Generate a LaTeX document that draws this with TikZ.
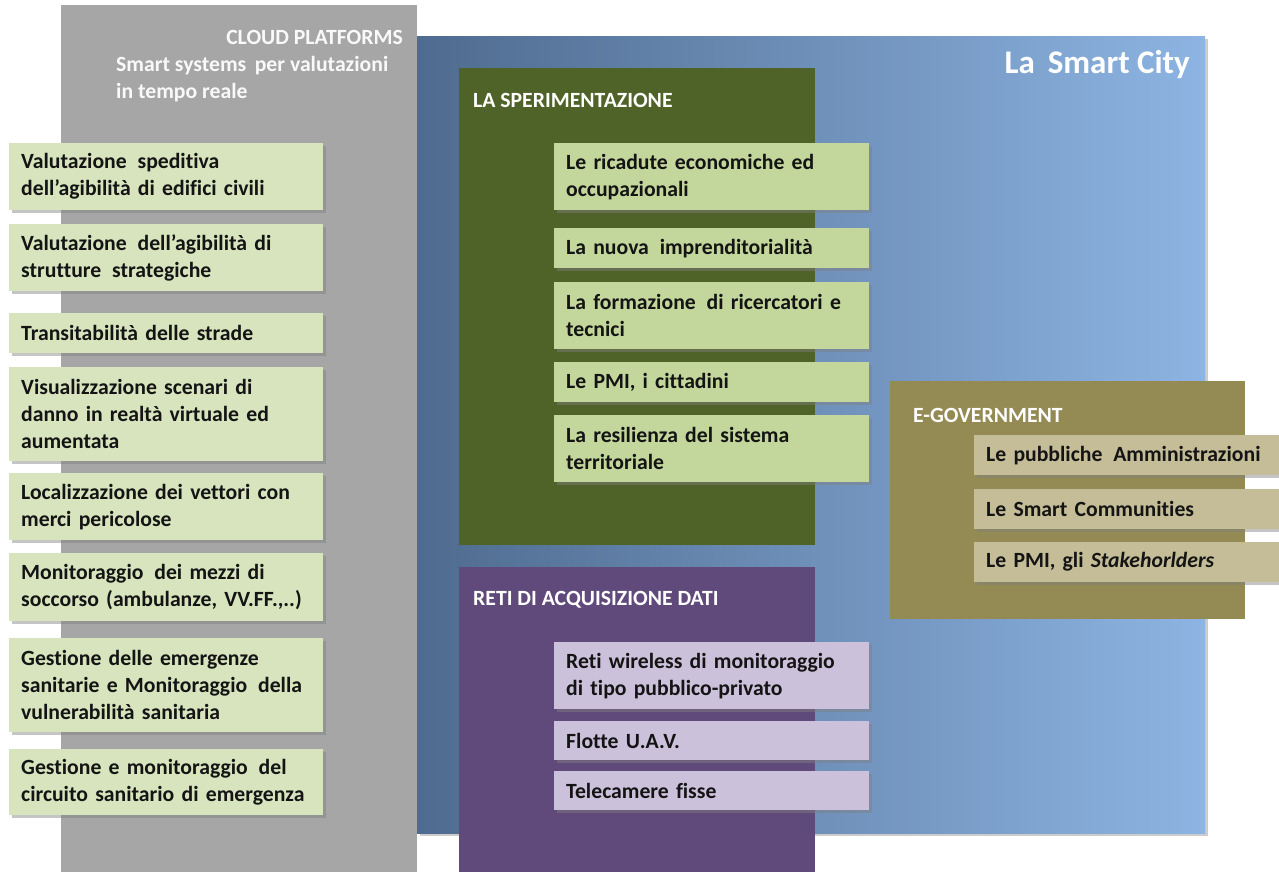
\documentclass[tikz,border=0pt]{standalone}
\usepackage{fontspec}
\setmainfont{Carlito}[Ligatures=NoCommon]
\usepackage{xcolor}
\definecolor{Cloud-gray}{RGB}{166, 166, 166}
\definecolor{City-dark}{RGB}{79, 107, 143}
\definecolor{City-light}{RGB}{141, 180, 226}
\definecolor{Spe-green}{RGB}{79, 98, 40}
\definecolor{Reti-purple}{RGB}{96, 74, 123}
\definecolor{Egov-olive}{RGB}{148, 138, 84}
\definecolor{Box-cloud}{RGB}{215, 228, 189}
\definecolor{Box-spe}{RGB}{195, 214, 155}
\definecolor{Box-reti}{RGB}{204, 193, 218}
\definecolor{Box-egov}{RGB}{196, 189, 151}
\definecolor{Text-dark}{RGB}{20, 20, 20}
\usetikzlibrary{shadows,positioning}

\begin{document}
\begin{tikzpicture} [ % styles
    x=1pt, y=-1pt, font=\bfseries\fontsize{21.7}{27}\selectfont,
    panel/.style = {shape = rectangle, anchor = north west, inner sep = 0pt},
    title/.style = {shape = rectangle, inner sep = 0pt, text = white, align = left},
    item/.style = {shape = rectangle, anchor = north west, align = left, inner xsep = 12pt, inner ysep = 0pt,
        text = Text-dark, drop shadow = {shadow xshift = 3pt, shadow yshift = -3pt, opacity = 0.45}},
    item-cloud/.style = {item, fill = Box-cloud, minimum width = 314pt, text width = 290pt},
    item-spe/.style = {item, fill = Box-spe, minimum width = 315pt, text width = 291pt},
    item-reti/.style = {item, fill = Box-reti, minimum width = 315pt, text width = 291pt},
    item-egov/.style = {item, fill = Box-egov, minimum width = 310pt, text width = 286pt}
]

\useasboundingbox [fill = white] (0,0) rectangle (1279,872);

% pannelli
\node [panel, fill = Cloud-gray, minimum width = 356pt, minimum height = 867pt] (pcloud) at (61,5){};
\node [panel, minimum width = 788pt, minimum height = 797pt, left color = City-dark, right color = City-light,
    drop shadow = {shadow xshift = 3pt, shadow yshift = -3pt, opacity = 0.4}] (pcity) at (417,36){};
\node [panel, fill = Spe-green, minimum width = 356pt, minimum height = 477pt] (pspe) at (459,68){};
\node [panel, fill = Reti-purple, minimum width = 356pt, minimum height = 305pt] (preti) at (459,567){};
\node [panel, fill = Egov-olive, minimum width = 355pt, minimum height = 238pt] (pegov) at (890,381){};

% titoli
\node [title, anchor = east, text = white!95!gray] (tcloud) at (403,37){CLOUD PLATFORMS};
\node [title, anchor = north west, text = white!95!gray] (tsmart) at (116,56){Smart systems \,per valutazioni\\in tempo reale};
\node [title, anchor = east, font = \bfseries\fontsize{33}{33}\selectfont] (tcity) at (1190,65){La \,Smart City};
\node [title, anchor = west] (tspe) at (473,100){LA SPERIMENTAZIONE};
\node [title, anchor = west] (treti) at (473,600){RETI DI ACQUISIZIONE DATI};
\node [title, anchor = west] (tegov) at (913,415){E-GOVERNMENT};

% cloud platforms
\node [item-cloud, minimum height = 67pt] (cp1) at (9,143){Valutazione \,speditiva\\dell’agibilità di edifici civili};
\node [item-cloud, minimum height = 67pt] (cp2) at (9,224){Valutazione \,dell’agibilità di\\strutture \,strategiche};
\node [item-cloud, minimum height = 40pt] (cp3) at (9,313){Transitabilità delle strade};
\node [item-cloud, minimum height = 94pt] (cp4) at (9,367){Visualizzazione scenari di\\danno in realtà virtuale ed\\aumentata};
\node [item-cloud, minimum height = 67pt] (cp5) at (9,473){Localizzazione dei vettori con\\merci pericolose};
\node [item-cloud, minimum height = 68pt] (cp6) at (9,553){Monitoraggio \,dei mezzi di\\soccorso (ambulanze, VV.FF.,..)};
\node [item-cloud, minimum height = 94pt] (cp7) at (9,638){Gestione delle emergenze\\sanitarie e Monitoraggio \,della\\vulnerabilità sanitaria};
\node [item-cloud, minimum height = 66pt] (cp8) at (9,749){Gestione e monitoraggio \,del\\circuito sanitario di emergenza};

% sperimentazione
\node [item-spe, minimum height = 67pt] (sp1) at (554,143){Le ricadute economiche ed\\occupazionali};
\node [item-spe, minimum height = 40pt] (sp2) at (554,228){La nuova \,imprenditorialità};
\node [item-spe, minimum height = 67pt] (sp3) at (554,282){La formazione \,di ricercatori e\\tecnici};
\node [item-spe, minimum height = 40pt] (sp4) at (554,362){Le PMI, i cittadini};
\node [item-spe, minimum height = 67pt] (sp5) at (554,415){La resilienza del sistema\\territoriale};

% reti
\node [item-reti, minimum height = 67pt] (rt1) at (554,642){Reti wireless di monitoraggio\\di tipo pubblico-privato};
\node [item-reti, minimum height = 39pt] (rt2) at (554,721){Flotte U.A.V.};
\node [item-reti, minimum height = 39pt] (rt3) at (554,771){Telecamere fisse};

% e-government
\node [item-egov, minimum height = 40pt] (eg1) at (974,435){Le pubbliche \,Amministrazioni};
\node [item-egov, minimum height = 40pt] (eg2) at (974,489){Le Smart Communities};
\node [item-egov, minimum height = 40pt] (eg3) at (974,542){Le PMI, gli \textit{Stakehorlders}};

\end{tikzpicture}
\end{document}
